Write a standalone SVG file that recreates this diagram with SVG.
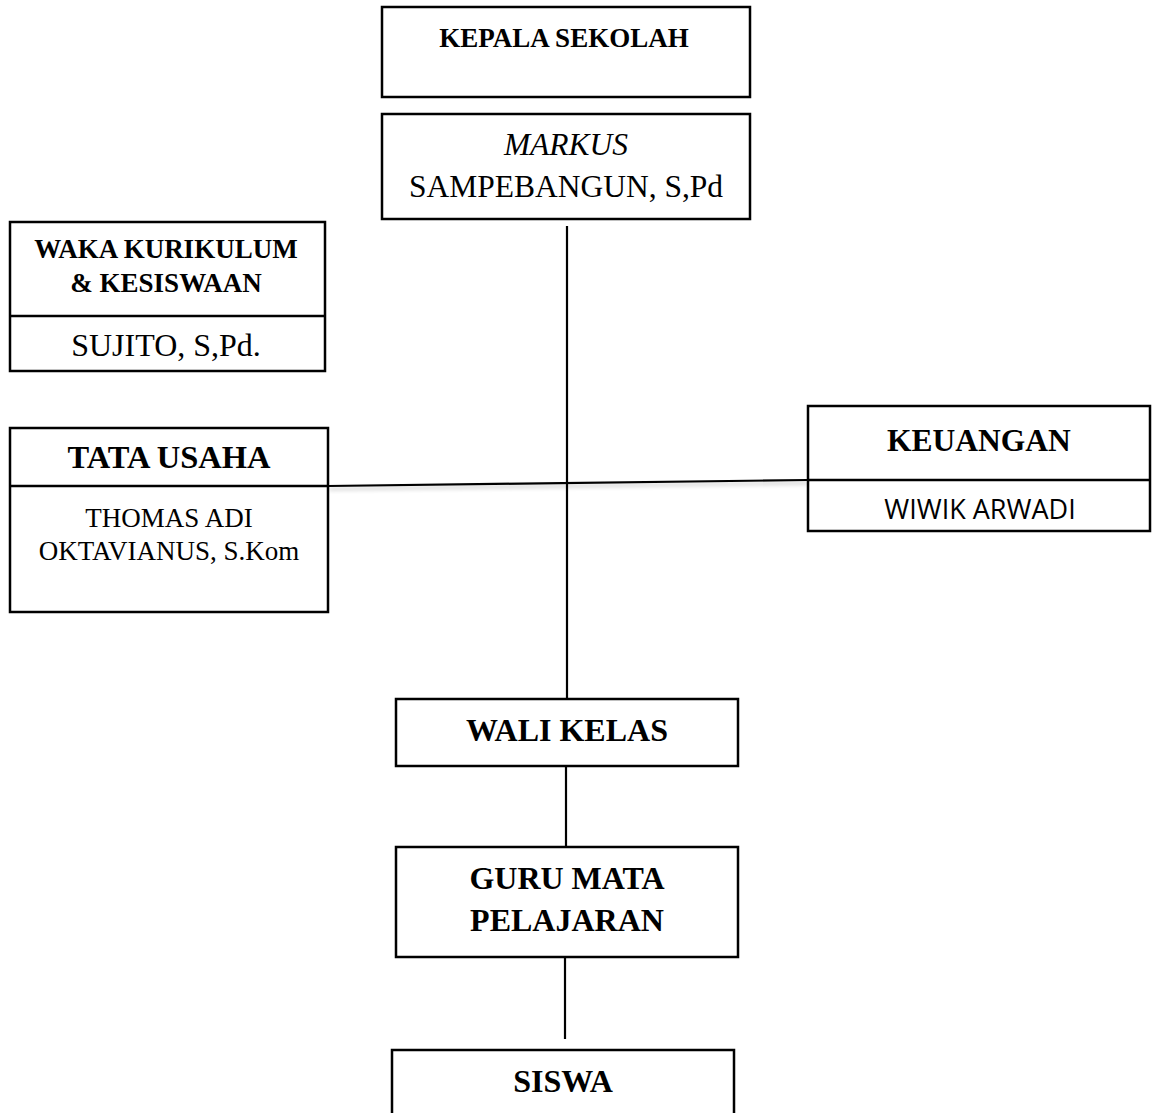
<svg xmlns="http://www.w3.org/2000/svg" width="1155" height="1113" viewBox="0 0 1155 1113">
<style>
.box{fill:#fff;stroke:#000;stroke-width:2.5}
.div{stroke:#000;stroke-width:2.5}
.con{stroke:#000;stroke-width:2.2;fill:none}
.b{font-family:"Liberation Serif","Times New Roman",serif;font-weight:bold;fill:#000;text-anchor:middle}
.r{font-family:"Liberation Serif","Times New Roman",serif;fill:#000;text-anchor:middle}
.s{font-family:"Open Sans","Liberation Sans",sans-serif;fill:#000;text-anchor:middle}
</style>
<defs>
<filter id="sh" x="-5%" y="-50%" width="110%" height="300%">
<feGaussianBlur in="SourceAlpha" stdDeviation="2"/>
<feOffset dx="1" dy="3" result="o"/>
<feComponentTransfer><feFuncA type="linear" slope="0.25"/></feComponentTransfer>
<feMerge><feMergeNode/><feMergeNode in="SourceGraphic"/></feMerge>
</filter>
</defs>
<rect width="1155" height="1113" fill="#fff"/>
<g id="connectors">
<line class="con" x1="567" y1="226" x2="567" y2="699"/>
<line class="con" filter="url(#sh)" x1="325" y1="316" x2="567" y2="316"/>
<line class="con" filter="url(#sh)" x1="328" y1="486" x2="808" y2="480"/>
<line class="con" x1="566" y1="766" x2="566" y2="847"/>
<line class="con" x1="565" y1="957" x2="565" y2="1039"/>
</g>
<g id="kepala-sekolah">
<rect class="box" x="382" y="7" width="368" height="90"/>
<text class="b" x="564" y="47" font-size="27">KEPALA SEKOLAH</text>
</g>
<g id="markus">
<rect class="box" x="382" y="114" width="368" height="105"/>
<text class="r" x="566" y="155" font-size="31.5" font-style="italic">MARKUS</text>
<text class="r" x="566" y="197" font-size="31.5">SAMPEBANGUN, S,Pd</text>
</g>
<g id="waka">
<rect class="box" x="10" y="222" width="315" height="149"/>
<line class="div" x1="10" y1="316" x2="325" y2="316"/>
<text class="b" x="166" y="258" font-size="27">WAKA KURIKULUM</text>
<text class="b" x="166" y="292" font-size="27">&amp; KESISWAAN</text>
<text class="r" x="166" y="356" font-size="32">SUJITO, S,Pd.</text>
</g>
<g id="tata-usaha">
<rect class="box" x="10" y="428" width="318" height="184"/>
<line class="div" x1="10" y1="486" x2="328" y2="486"/>
<text class="b" x="169" y="468" font-size="32.5">TATA USAHA</text>
<text class="r" x="169" y="527" font-size="27">THOMAS ADI</text>
<text class="r" x="169" y="560" font-size="27">OKTAVIANUS, S.Kom</text>
</g>
<g id="keuangan">
<rect class="box" x="808" y="406" width="342" height="125"/>
<line class="div" x1="808" y1="480" x2="1150" y2="480"/>
<text class="b" x="979" y="451" font-size="31.5">KEUANGAN</text>
<text class="s" x="980" y="519" font-size="27">WIWIK ARWADI</text>
</g>
<g id="wali-kelas">
<rect class="box" x="396" y="699" width="342" height="67"/>
<text class="b" x="567" y="741" font-size="32">WALI KELAS</text>
</g>
<g id="guru">
<rect class="box" x="396" y="847" width="342" height="110"/>
<text class="b" x="567" y="889" font-size="32">GURU MATA</text>
<text class="b" x="567" y="931" font-size="32">PELAJARAN</text>
</g>
<g id="siswa">
<rect class="box" x="392" y="1050" width="342" height="80"/>
<text class="b" x="563" y="1092" font-size="32">SISWA</text>
</g>
</svg>
